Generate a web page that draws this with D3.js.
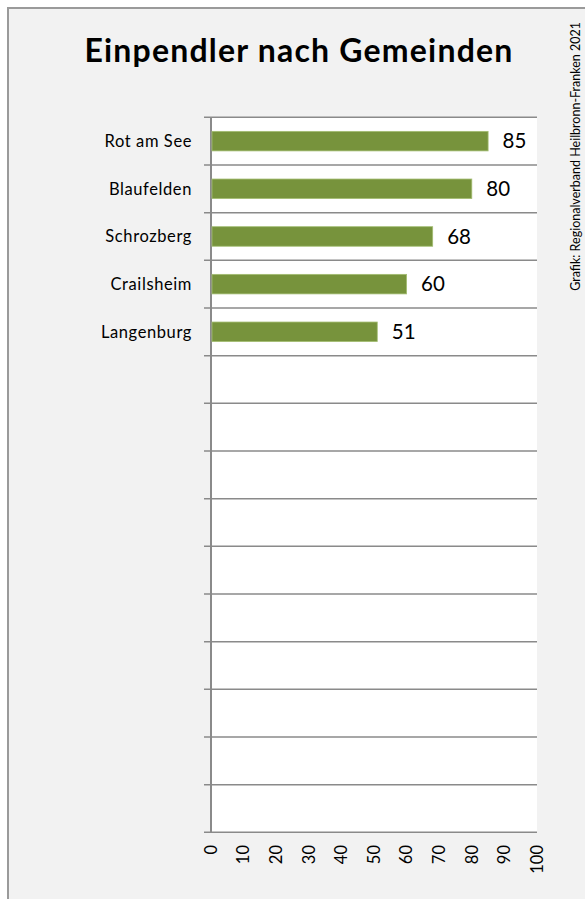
<!DOCTYPE html>
<html>
<head>
<meta charset="utf-8">
<script src="https://cdn.jsdelivr.net/npm/d3@7"></script>
<style>
html,body{margin:0;padding:0;background:#fff;}
svg{display:block;}
</style>
</head>
<body>
<svg id="chart" width="585" height="899"></svg>
<script>
const title = "Einpendler nach Gemeinden";
const source = "Grafik: Regionalverband Heilbronn-Franken  2021";
const categories = ["Rot am See","Blaufelden","Schrozberg","Crailsheim","Langenburg"];
const values = [85, 80, 68, 60, 51];
const slotCount = 15;
const xTicks = [0,10,20,30,40,50,60,70,80,90,100];

const svg = d3.select("#chart");
const W = 585, H = 899;
const font = "Lato, 'Open Sans', sans-serif";

// chart area background and border
svg.append("rect").attr("x",8).attr("y",8).attr("width",W).attr("height",H)
  .attr("fill","#f2f2f2").attr("stroke","#9a9a9a").attr("stroke-width",2);

const plot = {left:211, right:537, top:117.3, bottom:832.3};

svg.append("rect").attr("x",plot.left).attr("y",plot.top)
  .attr("width",plot.right-plot.left).attr("height",plot.bottom-plot.top)
  .attr("fill","#ffffff");

const x = d3.scaleLinear().domain([0,100]).range([plot.left, plot.right]);
const p = 0.59;
const y = d3.scaleBand().domain(d3.range(slotCount)).range([plot.top, plot.bottom])
  .paddingInner(p).paddingOuter(p/2);
const step = y.step();

// gridlines at band boundaries (with left tick extension)
const bounds = d3.range(slotCount+1).map(i => plot.top + i*step);
svg.append("g").selectAll("line").data(bounds).join("line")
  .attr("x1", plot.left-7).attr("x2", plot.right)
  .attr("y1", d=>d).attr("y2", d=>d)
  .attr("stroke","#8a8a8a").attr("stroke-width",1.5);

// vertical axis line
svg.append("line").attr("x1",plot.left).attr("x2",plot.left)
  .attr("y1",plot.top).attr("y2",plot.bottom)
  .attr("stroke","#8a8a8a").attr("stroke-width",2);

// bars
svg.append("g").selectAll("rect").data(values).join("rect")
  .attr("x", x(0)+1)
  .attr("y", (d,i)=>y(i))
  .attr("width", d=>x(d)-x(0)-1)
  .attr("height", y.bandwidth())
  .attr("fill","#77933c")
  .attr("stroke","#a3bd72").attr("stroke-width",0.8);

// value labels
svg.append("g").selectAll("text").data(values).join("text")
  .attr("x", d=>x(d)+14.5)
  .attr("y", (d,i)=>y(i)+y.bandwidth()/2)
  .attr("dy","0.35em")
  .attr("font-family",font).attr("font-size",20.5)
  .attr("fill","#000")
  .text(d=>d);

// category labels
svg.append("g").selectAll("text").data(categories).join("text")
  .attr("x", 192)
  .attr("y", (d,i)=>y(i)+y.bandwidth()/2)
  .attr("dy","0.35em")
  .attr("text-anchor","end")
  .attr("font-family",font).attr("font-size",16.5)
  .attr("letter-spacing","0.6px")
  .attr("fill","#000")
  .text(d=>d);

// x axis tick labels (rotated)
svg.append("g").selectAll("text").data(xTicks).join("text")
  .attr("transform", d=>`translate(${x(d)},845) rotate(-90)`)
  .attr("text-anchor","end")
  .attr("dy","0.35em")
  .attr("font-family",font).attr("font-size",16.5)
  .attr("fill","#000")
  .text(d=>d);

// title
svg.append("text").attr("x", 299).attr("y", 62)
  .attr("text-anchor","middle")
  .attr("font-family",font).attr("font-weight","bold").attr("font-size",32)
  .attr("letter-spacing","1.2px")
  .attr("fill","#000").text(title);

// source (rotated)
svg.append("text")
  .attr("transform","translate(576,22) rotate(-90)")
  .attr("text-anchor","end")
  .attr("dy","0.35em")
  .attr("font-family",font).attr("font-size",12.5)
  .attr("fill","#000").text(source);
</script>
</body>
</html>
